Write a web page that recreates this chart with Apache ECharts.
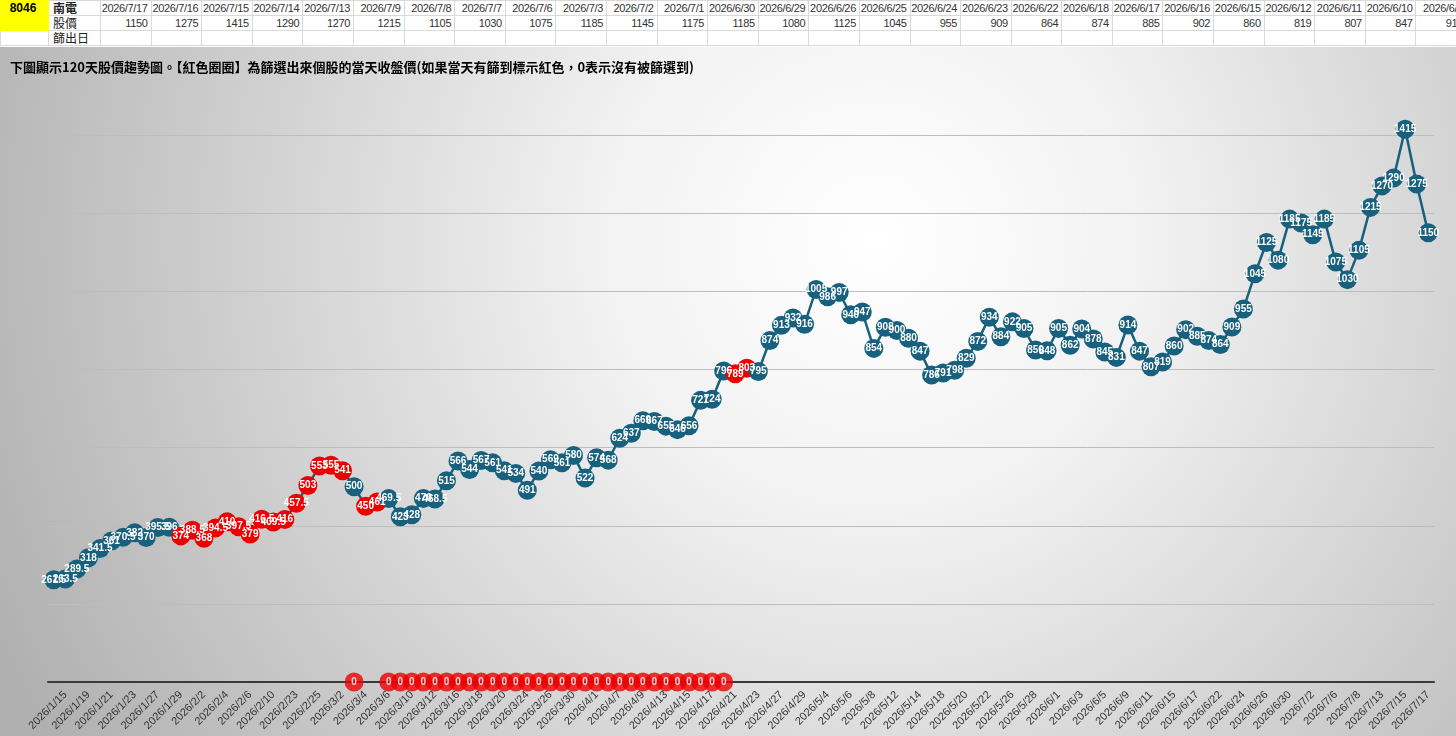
<!DOCTYPE html>
<html>
<head>
<meta charset="utf-8">
<script src="https://cdn.jsdelivr.net/npm/echarts@6/dist/echarts.min.js"></script>
<style>
  html, body { margin: 0; padding: 0; width: 1456px; height: 736px; overflow: hidden; background: #fff; }
  #sheet { position: absolute; left: 0; top: 0; border-collapse: collapse; table-layout: fixed;
    font-family: 'Liberation Sans', sans-serif; font-size: 11px; letter-spacing: -0.35px; color: #333; }
  #sheet td { border: 1px solid #d9d9d9; height: 14px; padding: 0 3px 0 0; white-space: nowrap; overflow: hidden;
    line-height: 14px; text-align: right; }
  #sheet td.code { background: #ffff00; text-align: center; vertical-align: top; font-weight: bold;
    font-size: 12px; letter-spacing: 0; color: #000; border-color: #ffff00; }
  #sheet td.name { text-align: left; padding-left: 4px; font-family: 'Noto Sans CJK TC', sans-serif;
    font-size: 12px; letter-spacing: 0; color: #222; }
  #chart { position: absolute; left: 0; top: 47px; width: 1456px; height: 689px; }
</style>
</head>
<body>
<table id="sheet"></table>
<div id="chart"></div>
<script>
const stockCode = '8046'
const stockName = '南電'
const rowTitles = ['股價', '篩出日']
const tableCols = 27

const dates = [
  '2026/1/14', '2026/1/15', '2026/1/16', '2026/1/19', '2026/1/20', '2026/1/21', '2026/1/22', '2026/1/23',
  '2026/1/26', '2026/1/27', '2026/1/28', '2026/1/29', '2026/1/30', '2026/2/2', '2026/2/3', '2026/2/4',
  '2026/2/5', '2026/2/6', '2026/2/9', '2026/2/10', '2026/2/11', '2026/2/23', '2026/2/24', '2026/2/25',
  '2026/2/26', '2026/3/2', '2026/3/3', '2026/3/4', '2026/3/5', '2026/3/6', '2026/3/9', '2026/3/10',
  '2026/3/11', '2026/3/12', '2026/3/13', '2026/3/16', '2026/3/17', '2026/3/18', '2026/3/19', '2026/3/20',
  '2026/3/23', '2026/3/24', '2026/3/25', '2026/3/26', '2026/3/27', '2026/3/30', '2026/3/31', '2026/4/1',
  '2026/4/2', '2026/4/7', '2026/4/8', '2026/4/9', '2026/4/10', '2026/4/13', '2026/4/14', '2026/4/15',
  '2026/4/16', '2026/4/17', '2026/4/20', '2026/4/21', '2026/4/22', '2026/4/23', '2026/4/24', '2026/4/27',
  '2026/4/28', '2026/4/29', '2026/4/30', '2026/5/4', '2026/5/5', '2026/5/6', '2026/5/7', '2026/5/8',
  '2026/5/11', '2026/5/12', '2026/5/13', '2026/5/14', '2026/5/15', '2026/5/18', '2026/5/19', '2026/5/20',
  '2026/5/21', '2026/5/22', '2026/5/25', '2026/5/26', '2026/5/27', '2026/5/28', '2026/5/29', '2026/6/1',
  '2026/6/2', '2026/6/3', '2026/6/4', '2026/6/5', '2026/6/8', '2026/6/9', '2026/6/10', '2026/6/11',
  '2026/6/12', '2026/6/15', '2026/6/16', '2026/6/17', '2026/6/18', '2026/6/22', '2026/6/23', '2026/6/24',
  '2026/6/25', '2026/6/26', '2026/6/29', '2026/6/30', '2026/7/1', '2026/7/2', '2026/7/3', '2026/7/6',
  '2026/7/7', '2026/7/8', '2026/7/9', '2026/7/13', '2026/7/14', '2026/7/15', '2026/7/16', '2026/7/17',
]

const closePrices = [
  261.5, 263.5, 289.5, 318, 341.5, 361, 370.5, 382, 370, 395.5, 396, 374, 388.5, 368, 394.5, 410,
  397.5, 379, 416.5, 409.5, 416, 457.5, 503, 553, 555, 541, 500, 450, 461, 469.5, 423, 428,
  470, 468.5, 515, 566, 544, 567, 561, 541, 534, 491, 540, 569, 561, 580, 522, 574,
  568, 624, 637, 669, 667, 655, 646, 656, 721, 724, 796, 789, 803, 795, 874, 913,
  932, 916, 1005, 986, 997, 940, 947, 854, 908, 900, 880, 847, 786, 791, 798, 829,
  872, 934, 884, 922, 905, 850, 848, 905, 862, 904, 878, 845, 831, 914, 847, 807,
  819, 860, 902, 885, 874, 864, 909, 955, 1045, 1125, 1080, 1185, 1175, 1145, 1185, 1075,
  1030, 1105, 1215, 1270, 1290, 1415, 1275, 1150,
]

// 篩選到的日子 (紅色圈圈)
const screenedDates = [
  '2026/1/29', '2026/1/30', '2026/2/2', '2026/2/3', '2026/2/4', '2026/2/5', '2026/2/6', '2026/2/9',
  '2026/2/10', '2026/2/11', '2026/2/23', '2026/2/24', '2026/2/25', '2026/2/26', '2026/3/2',
  '2026/3/4', '2026/3/5', '2026/4/21', '2026/4/22',
]

// 標示 0 的日子
const zeroDates = [
  '2026/3/3', '2026/3/6', '2026/3/9', '2026/3/10', '2026/3/11', '2026/3/12', '2026/3/13', '2026/3/16',
  '2026/3/17', '2026/3/18', '2026/3/19', '2026/3/20', '2026/3/23', '2026/3/24', '2026/3/25', '2026/3/26',
  '2026/3/27', '2026/3/30', '2026/3/31', '2026/4/1', '2026/4/2', '2026/4/7', '2026/4/8', '2026/4/9',
  '2026/4/10', '2026/4/13', '2026/4/14', '2026/4/15', '2026/4/16', '2026/4/17', '2026/4/20',
]

const titleText = '下圖顯示120天股價趨勢圖。【紅色圈圈】為篩選出來個股的當天收盤價(如果當天有篩到標示紅色，0表示沒有被篩選到)'

const BLUE = '#17607e'
const RED = '#ee0000'

// 上方表格
function buildSheet() {
  const table = document.getElementById('sheet')
  const colgroup = document.createElement('colgroup')
  const widths = [48, 52]
  for (let i = 0; i < tableCols; i++) widths.push(50.6)
  widths.forEach(w => {
    const col = document.createElement('col')
    col.style.width = w + 'px'
    colgroup.appendChild(col)
  })
  table.appendChild(colgroup)
  table.style.width = widths.reduce((a, b) => a + b, 0) + 'px'

  const last = dates.length - 1
  const rows = [
    [stockName].concat(Array.from({length: tableCols}, (_, i) => dates[last - i])),
    [rowTitles[0]].concat(Array.from({length: tableCols}, (_, i) => closePrices[last - i])),
    [rowTitles[1]].concat(Array.from({length: tableCols}, () => '')),
  ]
  rows.forEach((cells, r) => {
    const tr = document.createElement('tr')
    if (r === 0) {
      const td = document.createElement('td')
      td.className = 'code'
      td.rowSpan = 2
      td.textContent = stockCode
      tr.appendChild(td)
    }
    if (r === 2) tr.appendChild(document.createElement('td'))
    cells.forEach((c, i) => {
      const td = document.createElement('td')
      if (i === 0) {
        td.className = 'name'
        if (r === 0) td.style.fontWeight = 'bold'
      }
      td.textContent = c
      tr.appendChild(td)
    })
    table.appendChild(tr)
  })
}

buildSheet()

function trendChart() {
  const priceData = closePrices.map((v, i) => ({
    value: v,
    itemStyle: {color: screenedDates.includes(dates[i]) ? RED : BLUE},
  }))
  const zeroData = dates.map(d => (zeroDates.includes(d) ? 0 : '-'))

  const valueLabel = {
    show: true,
    position: 'inside',
    color: '#fff',
    fontFamily: 'Liberation Sans',
    fontSize: 10,
    fontWeight: 'bold',
  }

  const option = {
    animation: false,
    backgroundColor: {
      type: 'radial',
      x: 0.6,
      y: 0.28,
      r: 1.4,
      colorStops: [
        {offset: 0, color: '#ffffff'},
        {offset: 0.28, color: '#f2f2f2'},
        {offset: 1, color: '#b0b0b0'},
      ],
    },
    title: {
      text: titleText,
      left: 5,
      top: 9,
      textStyle: {
        fontFamily: 'Noto Sans CJK TC',
        fontSize: 13,
        fontWeight: 'bold',
        color: '#000',
      },
    },
    grid: {left: 48, right: 22, top: 10, bottom: 54},
    xAxis: {
      type: 'category',
      data: dates,
      boundaryGap: true,
      axisLine: {lineStyle: {color: '#3a3a3a', width: 2}},
      axisTick: {show: false},
      axisLabel: {
        interval: (index) => index % 2 === 1,
        rotate: 45,
        margin: 11,
        fontFamily: 'Liberation Sans',
        fontSize: 11,
        color: '#333',
      },
    },
    yAxis: {
      type: 'value',
      min: 0,
      max: 1600,
      interval: 200,
      axisLine: {show: false},
      axisTick: {show: false},
      axisLabel: {show: false},
      splitLine: {
        showMinLine: false,
        showMaxLine: false,
        lineStyle: {color: '#bdbdbd', width: 1},
      },
    },
    series: [
      {
        name: '股價',
        type: 'line',
        data: priceData,
        symbol: 'circle',
        symbolSize: 19,
        showAllSymbol: true,
        lineStyle: {color: BLUE, width: 2.5},
        label: valueLabel,
      },
      {
        name: '篩出日',
        type: 'scatter',
        data: zeroData,
        symbol: 'circle',
        symbolSize: 19,
        itemStyle: {color: RED},
        label: Object.assign({formatter: '{c}'}, valueLabel),
        z: 3,
      },
    ],
  }

  var myChart = echarts.init(document.getElementById('chart'))
  myChart.setOption(option)
}

// 股價趨勢
trendChart()
</script>
</body>
</html>
